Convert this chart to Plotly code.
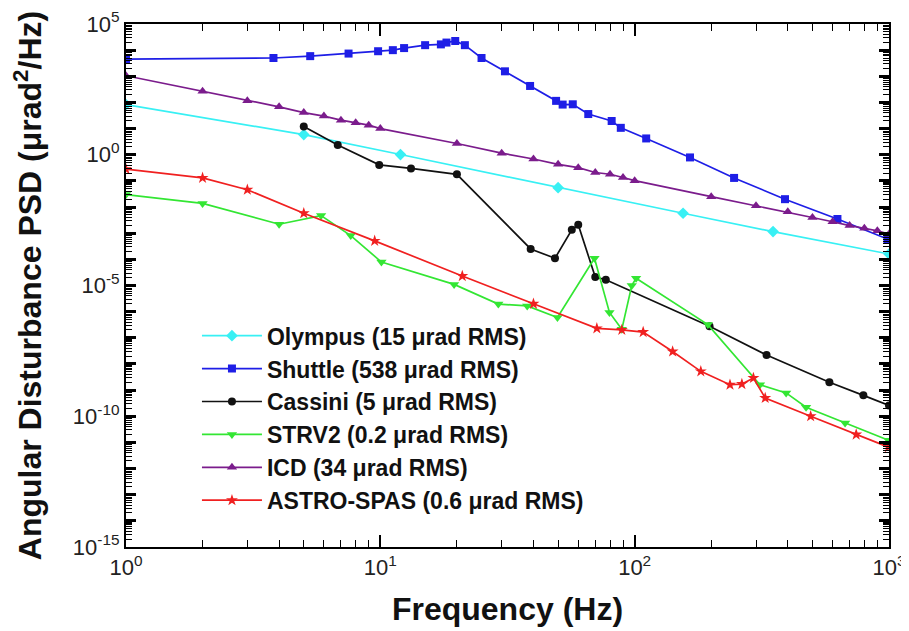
import plotly.graph_objects as go

# ---------------- data ----------------
olympus_f = [1, 5, 12, 50, 155, 350, 1000]
olympus_p = [83, 5.9, 1.02, 0.055, 5.8e-3, 1.15e-3, 1.6e-4]

shuttle_f = [1, 3.8, 5.3, 7.5, 9.8, 11.2, 12.4, 15, 17.3, 18.2, 19.7, 21.5, 25, 30.9,
             38.8, 49.1, 52.1, 57.1, 65.7, 81.2, 88.2, 111, 165, 246, 390, 627, 986]
shuttle_p = [4.5e3, 5.0e3, 5.9e3, 7.4e3, 9.1e3, 1.0e4, 1.2e4, 1.55e4, 1.66e4, 1.95e4, 2.24e4,
             1.55e4, 5.0e3, 1.55e3, 427, 115, 83, 85, 36, 19.5, 10.7, 4.2, 0.79, 0.13,
             0.020, 3.5e-3, 6.0e-4]

cassini_f = [5, 6.8, 9.9, 13.2, 20, 39, 48.6, 56.6, 60, 70, 77, 197, 330, 583, 793, 1000]
cassini_p = [12, 2.35, 0.41, 0.30, 0.178, 2.5e-4, 1.1e-4, 1.35e-3, 2.1e-3, 2.1e-5, 1.66e-5,
             2.75e-7, 2.2e-8, 2.0e-9, 6.3e-10, 2.6e-10]

strv2_f = [1, 2, 4, 5.85, 7.65, 10.1, 19.5, 29.1, 37.8, 49.7, 69.5, 79.6, 89, 97.4, 101.3,
           194, 311, 394, 472, 672, 995]
strv2_p = [0.030, 0.0138, 2.2e-3, 4.7e-3, 8.1e-4, 7.9e-5, 1.1e-5, 1.95e-6, 1.66e-6, 6.0e-7,
           1.1e-4, 9.3e-7, 2.1e-7, 1.0e-5, 1.9e-5, 3.2e-7, 1.6e-9, 7.8e-10, 2.2e-10, 5.5e-11,
           1.2e-11]

icd_f = [1, 2, 3, 4, 5, 6, 7, 8, 9, 10, 20, 30, 40, 50, 60, 70, 80, 90, 100, 200, 300, 400,
         500, 600, 700, 800, 900, 1000]
icd_p = [1050, 270, 117, 68, 41, 30, 21, 16.6, 13.5, 10, 2.7, 1.15, 0.69, 0.43, 0.32, 0.21,
         0.18, 0.135, 0.102, 0.025, 0.0112, 6.6e-3, 4.0e-3, 2.75e-3, 1.95e-3, 1.55e-3,
         1.23e-3, 9.3e-4]

astro_f = [1, 2, 3, 5, 9.5, 21, 40, 71, 89, 108, 141, 182, 237, 264, 293, 326, 492, 743, 995]
astro_p = [0.28, 0.13, 0.046, 5.8e-3, 5.1e-4, 2.3e-5, 2.0e-6, 2.3e-7, 2.0e-7, 1.66e-7, 3.0e-8,
           5.2e-9, 1.6e-9, 1.7e-9, 2.9e-9, 5.0e-10, 1.0e-10, 2.0e-11, 6.6e-12]

series_names = ["Olympus (15 μrad RMS)", "Shuttle (538 μrad RMS)", "Cassini (5 μrad RMS)",
                "STRV2 (0.2 μrad RMS)", "ICD (34 μrad RMS)", "ASTRO-SPAS (0.6 μrad RMS)"]

x_tickvals = [1, 10, 100, 1000]
x_ticktext = ["10<sup>0</sup>", "10<sup>1</sup>", "10<sup>2</sup>", "10<sup>3</sup>"]
y_label_exps = [5, 0, -5, -10, -15]

# ---------------- figure ----------------
FONT = "Liberation Sans, Arial, sans-serif"
series = [
    (olympus_f, olympus_p, "#38F0F4", "diamond", 9),
    (shuttle_f, shuttle_p, "#1E1EE6", "square", 8),
    (cassini_f, cassini_p, "#111111", "circle", 8),
    (strv2_f, strv2_p, "#33E633", "triangle-down", 9),
    (icd_f, icd_p, "#7B1C8C", "triangle-up", 9),
    (astro_f, astro_p, "#F02020", "star", 9),
]

fig = go.Figure()
for i, ((fx, py, col, sym, sz), name) in enumerate(zip(series, series_names)):
    fig.add_trace(go.Scatter(
        x=fx, y=py, mode="lines+markers", name="<b>%s</b>" % name, legendgroup=str(i),
        line=dict(color=col, width=1.7),
        marker=dict(color=col, symbol=sym, size=sz, line=dict(width=0)),
    ))

y_major = [10.0 ** e for e in range(-15, 6)]
y_ticktext = [("10<sup>%d</sup>" % e) if e in y_label_exps else "" for e in range(-15, 6)]
y_minor = [m * 10.0 ** e for e in range(-15, 5) for m in range(2, 10)]
x_minor = [m * 10.0 ** e for e in range(0, 3) for m in range(2, 10)]

# page body adds an 8px offset; margins compensate so the plot sits at x 126-889, y 23-546
fig.update_layout(
    width=909, height=631,
    paper_bgcolor="white", plot_bgcolor="white",
    margin=dict(l=118, r=28, t=16, b=92),
    font=dict(family=FONT, color="#111111"),
    showlegend=True,
    legend=dict(
        x=0.093, y=0.445, xanchor="left", yanchor="top",
        bgcolor="rgba(0,0,0,0)", borderwidth=0,
        font=dict(size=23, family=FONT, color="#111111"),
        tracegroupgap=0, itemwidth=60,
    ),
)

fig.update_xaxes(
    type="log", range=[0, 3], automargin=False, ticklabeloverflow="allow",
    tickmode="array", tickvals=x_tickvals, ticktext=x_ticktext,
    ticks="inside", ticklen=12, tickwidth=1.5, tickcolor="black",
    minor=dict(ticks="inside", ticklen=7, tickwidth=1.2, tickcolor="black",
               tickmode="array", tickvals=x_minor),
    showline=True, linecolor="black", linewidth=2, mirror="allticks",
    showgrid=False, zeroline=False,
    tickfont=dict(size=22, family=FONT, color="#222222"),
    title=dict(text="<b>Frequency (Hz)</b>",
               font=dict(size=32, family=FONT, color="#111111"),
               standoff=18),
)
fig.update_yaxes(
    type="log", range=[-15, 5], automargin=False, ticklabeloverflow="allow",
    tickmode="array", tickvals=y_major, ticktext=y_ticktext,
    ticks="inside", ticklen=10, tickwidth=3, tickcolor="black",
    minor=dict(ticks="inside", ticklen=6, tickwidth=1, tickcolor="black",
               tickmode="array", tickvals=y_minor),
    showline=True, linecolor="black", linewidth=2, mirror="allticks",
    showgrid=False, zeroline=False,
    tickfont=dict(size=22, family=FONT, color="#222222"),
    title=dict(text="<b>Angular Disturbance PSD (μrad<sup>2</sup>/Hz)</b>",
               font=dict(size=32, family=FONT, color="#111111"),
               standoff=24),
)

fig.write_html("out.html")
